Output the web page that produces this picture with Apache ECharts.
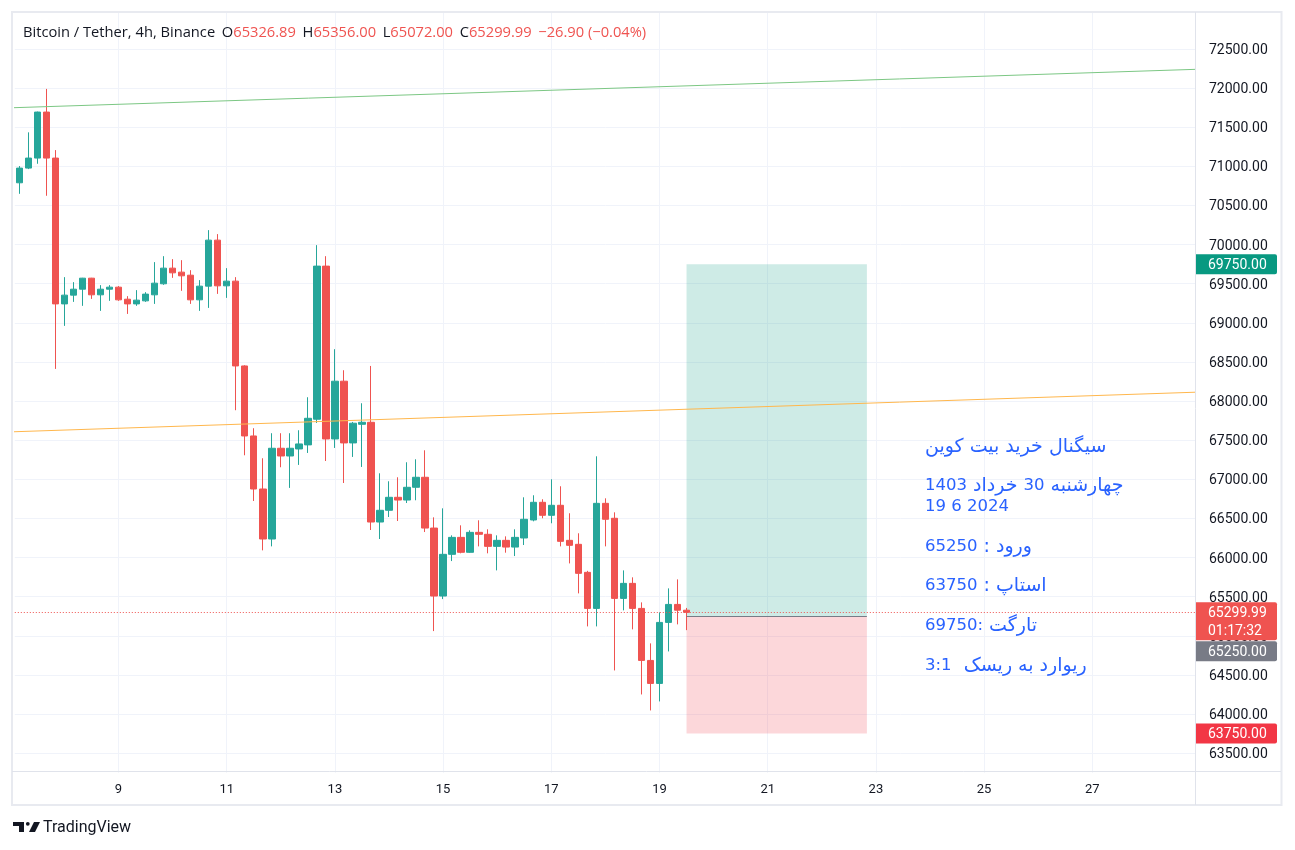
<!DOCTYPE html>
<html><head><meta charset="utf-8">
<script src="https://cdn.jsdelivr.net/npm/echarts@6/dist/echarts.min.js"></script>
<style>html,body{margin:0;padding:0;background:#fff}#c{width:1295px;height:850px}</style>
</head><body><div id="c"></div>
<script>
// ---- data (4h candles, [open, close, low, high]) ----
const candles = [
  [70790,70978,70649,71004],[70978,71106,70965,71435],[71106,71694,71033,71700],[71694,71106,70624,71990],
  [71106,69242,68411,71208],[69242,69354,68961,69584],[69354,69430,69268,69520],[69430,69571,69217,69575],
  [69571,69358,69306,69575],[69358,69430,69153,69482],[69430,69456,69281,69482],[69456,69294,69281,69470],
  [69302,69242,69114,69341],[69242,69290,69217,69418],[69281,69367,69268,69392],[69358,69507,69242,69776],
  [69499,69699,69486,69852],[69699,69639,69575,69814],[69648,69601,69409,69801],[69609,69294,69242,69673],
  [69294,69469,69153,69546],[69469,70057,69191,70185],[70057,69473,69370,70134],[69473,69533,69319,69699],
  [69533,68449,67883,69584],[68449,67554,67307,68458],[67554,66876,66723,67653],[66876,66237,66092,67269],
  [66237,67397,66143,67589],[67397,67298,67154,67589],[67298,67397,66890,67589],[67388,67452,67184,67627],
  [67440,67780,67337,68049],[67768,69725,67720,69993],[69725,67516,67234,69852],[67516,68254,67401,68663],
  [68254,67465,66953,68394],[67465,67717,67286,67733],[67703,67729,67158,67972],[67729,66454,66352,68449],
  [66454,66604,66237,67077],[66604,66770,66518,66975],[66770,66735,66467,67026],[66735,66898,66697,67218],
  [66898,67026,66732,67256],[67026,66377,66326,67371],[66377,65508,65060,66514],[65508,66041,65469,66629],
  [66041,66258,65955,66284],[66258,66067,66054,66412],[66067,66322,66060,66348],[66322,66297,66143,66476],
  [66297,66143,66054,66361],[66143,66220,65836,66284],[66220,66134,66062,66271],[66134,66258,66019,66361],
  [66250,66489,66160,66770],[66480,66706,66463,66796],[66706,66540,66502,66745],[66540,66668,66438,67000],
  [66668,66207,66143,66911],[66220,66156,65925,66566],[66169,65798,65542,66310],[65811,65350,65120,65830],
  [65350,66693,65120,67294],[66693,66489,66143,66757],[66502,65478,64557,66578],[65478,65670,65325,65836],
  [65670,65350,65082,65747],[65350,64685,64250,65427],[64685,64391,64046,64903],[64391,65171,64161,65299],
  [65171,65401,64800,65606],[65401,65327,65146,65721],[65326.89,65299.99,65072,65356]
];
const slotCount = 131;            // 4h slots from 7 June 04:00
const startDay = 7, startHour = 4;
const categories = [];
for (let i = 0; i < slotCount; i++) {
  const h = startHour + 4 * i;
  categories.push((startDay + Math.floor(h / 24)) + ' ' + String(h % 24).padStart(2, '0') + ':00');
}
const dayTicks = ['9','11','13','15','17','19','21','23','25','27'];
const priceTicks = [63500,64000,64500,65000,65500,66000,66500,67000,67500,68000,68500,69000,69500,70000,70500,71000,71500,72000,72500];
const greenTrend = [[-0.81, 71749], [130.39, 72240]];
const orangeTrend = [[-0.81, 67607], [130.39, 68113]];
const entryPrice = 65250, stopPrice = 63750, targetPrice = 69750;
const positionStart = 74, positionEnd = 94;
const lastPrice = 65299.99;
const countdown = '01:17:32';
const headerValues = ['65326.89', '65356.00', '65072.00', '65299.99', '−26.90 (−0.04%)'];
// note lines, segments in visual (left-to-right) order: [text, 'a' = Persian, 'd' = digits]
const noteLines = [
  [['سیگنال خرید بیت کوین', 'a']],
  [['1403', 'd'], [' خرداد ', 'a'], ['30', 'd'], [' چهارشنبه', 'a']],
  [['19 6 2024', 'd']],
  [['65250', 'd'], [' : ورود', 'a']],
  [['63750', 'd'], [' : استاپ', 'a']],
  [['69750:', 'd'], [' تارگت', 'a']],
  [['3:1', 'd'], ['  ریوارد به ریسک', 'a']]
];

// ---- chart ----
const chart = echarts.init(document.getElementById('c'), null, {renderer: 'canvas'});
const UP = '#26a69a', DOWN = '#ef5350', GRID = '#f0f3fa', TXT = '#131722';
const FONT = 'Roboto, "Liberation Sans", sans-serif';

const dayLines = categories
  .filter(c => c.endsWith(' 00:00') && dayTicks.includes(c.split(' ')[0]))
  .map(c => ({xAxis: c}));

chart.setOption({
  animation: false,
  backgroundColor: '#ffffff',
  grid: {left: 14.8, right: 99, top: 12, bottom: 77.3},
  xAxis: [{
    type: 'category', data: categories, boundaryGap: true,
    axisLine: {show: false},
    axisTick: {show: false},
    splitLine: {show: false},
    axisLabel: {
      interval: (i, v) => v.endsWith(' 00:00') && dayTicks.includes(v.split(' ')[0]),
      formatter: v => v.split(' ')[0],
      color: TXT, fontSize: 13, fontFamily: FONT, margin: 11
    }
  }, {
    type: 'value', min: -0.5, max: slotCount - 0.5, show: false
  }],
  yAxis: {
    type: 'value', position: 'right', min: 63250, max: 72973, interval: 250, scale: true,
    axisLine: {show: false},
    axisTick: {show: false},
    axisLabel: {show: false},
    splitLine: {show: true, lineStyle: {color: ['rgba(0,0,0,0)', GRID], width: 1}}
  },
  series: [
    {
      type: 'line', data: [], silent: true, z: 0,
      markLine: {
        z: 0, silent: true, symbol: ['none', 'none'], label: {show: false},
        lineStyle: {color: GRID, width: 1, type: 'solid'},
        data: dayLines
      }
    },
    {
      type: 'candlestick', data: candles, barWidth: 7, z: 3,
      itemStyle: {color: UP, color0: DOWN, borderColor: UP, borderColor0: DOWN, borderWidth: 1},
      markArea: {
        silent: true, z: 2,
        data: [
          [{xAxis: categories[positionStart], yAxis: targetPrice, itemStyle: {color: 'rgba(8,153,129,0.2)'}},
           {xAxis: categories[positionEnd], yAxis: entryPrice}],
          [{xAxis: categories[positionStart], yAxis: entryPrice, itemStyle: {color: 'rgba(242,54,69,0.2)'}},
           {xAxis: categories[positionEnd], yAxis: stopPrice}]
        ]
      },
      markLine: {
        silent: true, symbol: ['none', 'none'], label: {show: false}, z: 4,
        data: [
          {yAxis: lastPrice, lineStyle: {color: DOWN, width: 1, type: [1, 2]}},
          [{xAxis: categories[positionStart], yAxis: entryPrice, lineStyle: {color: '#787b86', width: 1, type: 'solid'}},
           {xAxis: categories[positionEnd], yAxis: entryPrice}]
        ]
      }
    },
    {
      type: 'line', xAxisIndex: 1, data: greenTrend, symbol: 'none', silent: true, z: 4,
      lineStyle: {color: '#7cc784', width: 1}
    },
    {
      type: 'line', xAxisIndex: 1, data: orangeTrend, symbol: 'none', silent: true, z: 4,
      lineStyle: {color: '#ffb74d', width: 1}
    }
  ]
});

// ---- overlays: price labels, frame, header, notes, price badges, logo ----
const yPix = v => chart.convertToPixel({yAxisIndex: 0}, v);
const graphics = [];
priceTicks.forEach(v => graphics.push({
  type: 'text', z: 40, x: 1209, y: yPix(v) + 1.5,
  style: {text: v.toFixed(2), fill: TXT, font: '14px ' + FONT, verticalAlign: 'middle', align: 'left'}
}));
const badgeX = 1196, badgeW = 81;
function badge(yTop, h, color, lines) {
  const els = [{
    type: 'rect', z: 50, shape: {x: badgeX, y: yTop, width: badgeW, height: h, r: [0, 2, 2, 0]},
    style: {fill: color}
  }];
  lines.forEach((t, i) => els.push({
    type: 'text', z: 51, x: 1208, y: yTop + 11 + i * 18,
    style: {text: t, fill: '#ffffff', font: '14px ' + FONT, verticalAlign: 'middle', align: 'left'}
  }));
  return els;
}
const yT = yPix(targetPrice), yS = yPix(stopPrice), yL = yPix(lastPrice);
const redTop = yL - 10, redH = 38;
graphics.push(
  ...badge(yT - 10, 20, '#089981', [targetPrice.toFixed(2)]),
  ...badge(redTop, redH, '#ef5350', [lastPrice.toFixed(2), countdown]),
  ...badge(redTop + redH + 1, 20, '#787b86', [entryPrice.toFixed(2)]),
  ...badge(yS - 10, 20, '#f23645', [stopPrice.toFixed(2)])
);
// frame
graphics.push({type: 'rect', z: 60, silent: true,
  shape: {x: 12, y: 12, width: 1269.5, height: 793},
  style: {fill: 'none', stroke: '#e8eaf0', lineWidth: 2}});
graphics.push({type: 'line', z: 60, shape: {x1: 1195.5, y1: 12, x2: 1195.5, y2: 805}, style: {stroke: '#e0e3eb', lineWidth: 1}});
graphics.push({type: 'line', z: 60, shape: {x1: 12, y1: 771.5, x2: 1281, y2: 771.5}, style: {stroke: '#e0e3eb', lineWidth: 1}});
// header
const HF = '14.7px "Open Sans", sans-serif';
graphics.push({
  type: 'text', z: 70, x: 23, y: 33,
  style: {
    text: '{a|Bitcoin / Tether, 4h, Binance}  {a|O}{r|' + headerValues[0] + '}  {a|H}{r|' + headerValues[1] +
          '}  {a|L}{r|' + headerValues[2] + '}  {a|C}{r|' + headerValues[3] + '}  {r|' + headerValues[4] + '}',
    verticalAlign: 'middle',
    rich: {
      a: {fill: TXT, font: HF},
      r: {fill: '#ef5350', font: HF}
    }
  }
});
// notes
const noteY = [447, 486, 507, 547, 586, 626, 666];
noteLines.forEach((segs, i) => graphics.push({
  type: 'text', z: 70, x: 925, y: noteY[i],
  style: {
    text: segs.map(s => '{' + s[1] + '|' + s[0] + '}').join(''),
    verticalAlign: 'middle', align: 'left',
    rich: {
      a: {fill: '#2962ff', font: '19px "DejaVu Sans", sans-serif'},
      d: {fill: '#2962ff', font: '16.5px "DejaVu Sans", sans-serif'}
    }
  }
}));
// logo
graphics.push({type: 'polygon', z: 70, shape: {points: [[13, 822], [24, 822], [24, 832], [19, 832], [19, 826], [13, 826]]}, style: {fill: TXT}});
graphics.push({type: 'circle', z: 70, shape: {cx: 27.8, cy: 823.8, r: 1.9}, style: {fill: TXT}});
graphics.push({type: 'polygon', z: 70, shape: {points: [[34, 822], [40, 822], [35, 832], [29, 832]]}, style: {fill: TXT}});
graphics.push({type: 'text', z: 70, x: 43, y: 828,
  style: {text: 'TradingView', fill: TXT, font: '16px ' + FONT, verticalAlign: 'middle'}});

chart.setOption({graphic: graphics});
</script></body></html>
